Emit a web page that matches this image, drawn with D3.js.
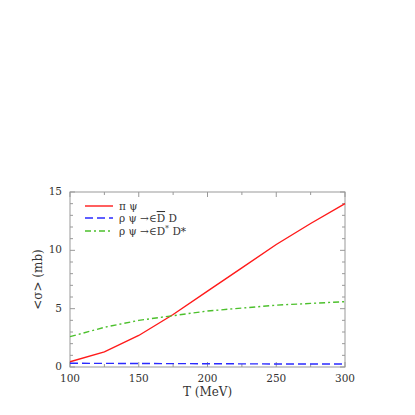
<!DOCTYPE html>
<html>
<head>
<meta charset="utf-8">
<script src="https://cdn.jsdelivr.net/npm/d3@7"></script>
<style>
  body { margin: 0; background: #fff; }
</style>
</head>
<body>
<div id="chart"></div>
<script>
// Data
const temps = [100, 125, 150, 175, 200, 225, 250, 275, 300];
const piPsi = [0.45, 1.3, 2.7, 4.5, 6.5, 8.5, 10.5, 12.3, 14.0];
const rhoPsiDD = [0.32, 0.31, 0.30, 0.29, 0.28, 0.27, 0.26, 0.26, 0.25];
const rhoPsiDsDs = [2.6, 3.4, 4.0, 4.4, 4.8, 5.05, 5.3, 5.45, 5.6];
const xTicks = [100, 150, 200, 250, 300];
const yTicks = [0, 5, 10, 15];

const W = 415, H = 415;
const plotL = 70, plotR = 345, plotT = 192, plotB = 367;
const serif = "'DejaVu Serif', 'Liberation Serif', serif";

const svg = d3.select('#chart').append('svg')
    .attr('width', W)
    .attr('height', H)
    .style('font-family', serif);

const x = d3.scaleLinear().domain([100, 300]).range([plotL, plotR]);
const y = d3.scaleLinear().domain([0, 15]).range([plotB, plotT]);

const axisCol = '#999';
const textCol = '#333';

// frame
svg.append('rect')
    .attr('x', plotL).attr('y', plotT)
    .attr('width', plotR - plotL).attr('height', plotB - plotT)
    .attr('fill', 'none').attr('stroke', axisCol).attr('stroke-width', 1);

// ticks on all four sides, pointing inward
const xMinor = d3.range(100, 301, 25);
const yMinor = d3.range(0, 16, 1);
const tickG = svg.append('g').attr('stroke', axisCol).attr('stroke-width', 1);
xMinor.forEach(v => {
    const len = xTicks.includes(v) ? 5 : 3;
    tickG.append('line').attr('x1', x(v)).attr('x2', x(v)).attr('y1', plotB).attr('y2', plotB - len);
    tickG.append('line').attr('x1', x(v)).attr('x2', x(v)).attr('y1', plotT).attr('y2', plotT + len);
});
yMinor.forEach(v => {
    const len = yTicks.includes(v) ? 5 : 3;
    tickG.append('line').attr('x1', plotL).attr('x2', plotL + len).attr('y1', y(v)).attr('y2', y(v));
    tickG.append('line').attr('x1', plotR).attr('x2', plotR - len).attr('y1', y(v)).attr('y2', y(v));
});

// tick labels
svg.selectAll('.xlab').data(xTicks).enter().append('text')
    .attr('x', d => x(d)).attr('y', plotB + 15)
    .attr('text-anchor', 'middle').attr('font-size', 10.5).attr('fill', textCol)
    .text(d => d);
svg.selectAll('.ylab').data(yTicks).enter().append('text')
    .attr('x', plotL - 8).attr('y', d => y(d) + 3)
    .attr('text-anchor', 'end').attr('font-size', 10.5).attr('fill', textCol)
    .text(d => d);

// axis titles
svg.append('text')
    .attr('x', (plotL + plotR) / 2).attr('y', 396)
    .attr('text-anchor', 'middle').attr('font-size', 12).attr('fill', textCol)
    .text('T (MeV)');
svg.append('text')
    .attr('transform', `translate(42, ${(plotT + plotB) / 2}) rotate(-90)`)
    .attr('text-anchor', 'middle').attr('font-size', 12).attr('fill', textCol)
    .text('<σ> (mb)');

// curves
const line = d3.line().x((d, i) => x(temps[i])).y(d => y(d));
const series = [
    { vals: piPsi, color: '#ff1a1a', dash: null },
    { vals: rhoPsiDD, color: '#2a2aff', dash: '8,4' },
    { vals: rhoPsiDsDs, color: '#4cc02c', dash: '6,3,2,3' }
];
series.forEach(s => {
    svg.append('path')
        .attr('d', line(s.vals))
        .attr('fill', 'none')
        .attr('stroke', s.color)
        .attr('stroke-width', 1.4)
        .attr('stroke-dasharray', s.dash);
});

// legend
const legY = [206, 218, 231];
series.forEach((s, i) => {
    svg.append('line')
        .attr('x1', 85).attr('x2', 113).attr('y1', legY[i]).attr('y2', legY[i])
        .attr('stroke', s.color).attr('stroke-width', 1.4)
        .attr('stroke-dasharray', s.dash);
});
const legText = (i) => svg.append('text')
    .attr('x', 119).attr('y', legY[i] + 4)
    .attr('font-size', 10.5).attr('fill', textCol);

legText(0).text('π ψ');
const t1 = legText(1);
t1.append('tspan').text('ρ ψ →∈');
t1.append('tspan').attr('text-decoration', 'overline').text('D');
t1.append('tspan').text(' D');
const t2 = legText(2);
t2.append('tspan').text('ρ ψ →∈D');
t2.append('tspan').attr('baseline-shift', 'super').attr('font-size', 8).text('*');
t2.append('tspan').text(' D*');
</script>
</body>
</html>
